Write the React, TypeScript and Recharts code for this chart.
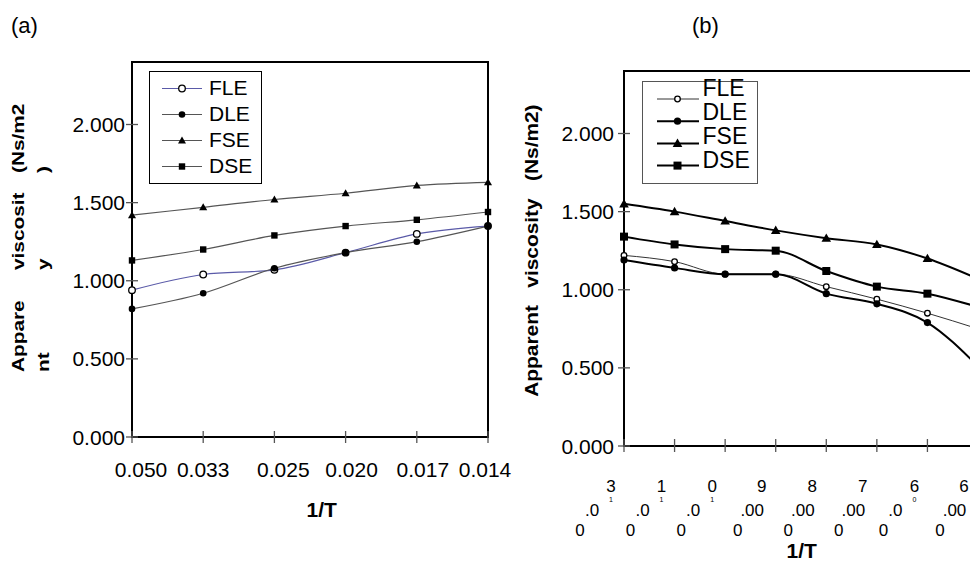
import React from 'react'
import { LineChart, Line, XAxis, YAxis, Legend, ReferenceArea, Label } from 'recharts'

const FONT = '"Liberation Sans", Arial, Helvetica, sans-serif'

// panel (a)
const aInvT = ['0.050', '0.033', '0.025', '0.020', '0.017', '0.014']
const aFLE = [0.94, 1.04, 1.07, 1.18, 1.3, 1.35]
const aDLE = [0.82, 0.92, 1.08, 1.18, 1.25, 1.35]
const aFSE = [1.42, 1.47, 1.52, 1.56, 1.61, 1.63]
const aDSE = [1.13, 1.2, 1.29, 1.35, 1.39, 1.44]

// panel (b)
const bInvT = ['0.013', '0.011', '0.010', '0.009', '0.008', '0.007', '0.006', '0.006']
const bFLE = [1.22, 1.18, 1.1, 1.1, 1.02, 0.94, 0.85, 0.75]
const bDLE = [1.19, 1.14, 1.1, 1.1, 0.975, 0.91, 0.79, 0.51]
const bFSE = [1.55, 1.5, 1.44, 1.38, 1.33, 1.29, 1.2, 1.07]
const bDSE = [1.34, 1.29, 1.26, 1.25, 1.12, 1.02, 0.975, 0.89]

const yTicks = [0, 0.5, 1, 1.5, 2]
const seriesNames = ['FLE', 'DLE', 'FSE', 'DSE']

const aRows = aInvT.map((t, i) => ({ t, FLE: aFLE[i], DLE: aDLE[i], FSE: aFSE[i], DSE: aDSE[i] }))
const bRows = bInvT.map((t, i) => ({ i, FLE: bFLE[i], DLE: bDLE[i], FSE: bFSE[i], DSE: bDSE[i] }))

type Kind = 'open' | 'dot' | 'tri' | 'sq'
type SeriesStyle = { stroke: string; width: number; kind: Kind; size: number }

const aStyle: Record<string, SeriesStyle> = {
  FLE: { stroke: '#5a5aa8', width: 1.2, kind: 'open', size: 3.3 },
  DLE: { stroke: '#555', width: 1.2, kind: 'dot', size: 3.3 },
  FSE: { stroke: '#555', width: 1.2, kind: 'tri', size: 4 },
  DSE: { stroke: '#555', width: 1.2, kind: 'sq', size: 3.2 },
}
const bStyle: Record<string, SeriesStyle> = {
  FLE: { stroke: '#333', width: 1, kind: 'open', size: 2.8 },
  DLE: { stroke: '#000', width: 2, kind: 'dot', size: 3.6 },
  FSE: { stroke: '#000', width: 2, kind: 'tri', size: 4.8 },
  DSE: { stroke: '#000', width: 2, kind: 'sq', size: 4 },
}

function Marker({ kind, cx, cy, s }: { kind: Kind; cx: number; cy: number; s: number }) {
  if (cx == null || cy == null) return null
  if (kind === 'open') return <circle cx={cx} cy={cy} r={s} fill="#fff" stroke="#000" strokeWidth={1.3} />
  if (kind === 'dot') return <circle cx={cx} cy={cy} r={s} fill="#000" />
  if (kind === 'tri')
    return <polygon points={`${cx},${cy - s} ${cx + s},${cy + s * 0.75} ${cx - s},${cy + s * 0.75}`} fill="#000" />
  return <rect x={cx - s} y={cy - s} width={s * 2} height={s * 2} fill="#000" />
}

// small shifts of the (a) tick labels, as placed in the original
const aNudge = [9, 0, 9, 6, 6, -3]

function XTickA({ x, y, payload, index }: any) {
  return (
    <g>
      <line x1={x} x2={x} y1={y - 6} y2={y + 6} stroke="#555" strokeWidth={1.3} />
      <text x={x + aNudge[index]} y={y + 40} textAnchor="middle" fontSize={21} fontFamily={FONT} fill="#000">
        {payload.value}
      </text>
    </g>
  )
}

const bWrapped = [0, 1, 2, 6]

function XTickB({ x, y, index }: any) {
  const s = bInvT[index]
  if (!s) return null
  const wrapped = bWrapped.includes(index)
  const mid = wrapped ? s.slice(1, 3) : s.slice(1, 4)
  return (
    <g fontFamily={FONT} fill="#000" textAnchor="middle">
      <line x1={x} x2={x} y1={y - 7} y2={y + 6} stroke="#555" strokeWidth={1.3} />
      <text x={x + (wrapped ? -13 : -14)} y={y + 46} fontSize={17}>{s[4]}</text>
      {wrapped && <text x={x - 13} y={y + 56} fontSize={7}>{s[3]}</text>}
      <text x={x + (wrapped ? -32 : -23.5)} y={y + 70} fontSize={17}>{mid}</text>
      <text x={x + (wrapped ? -44 : -38)} y={y + 90} fontSize={17}>{s[0]}</text>
    </g>
  )
}

function makeYTick(gap: number) {
  return function YTick({ x, y, payload }: any) {
    return (
      <g>
        <line x1={x - 6} x2={x + 6} y1={y} y2={y} stroke="#555" strokeWidth={1.3} />
        <text x={x - gap} y={y + 7.5} textAnchor="end" fontSize={21} fontFamily={FONT} fill="#000">
          {Number(payload.value).toFixed(3)}
        </text>
      </g>
    )
  }
}
const YTickA = makeYTick(7)
const YTickB = makeYTick(10)

function LegendA() {
  return (
    <svg width={113} height={113} style={{ display: 'block', overflow: 'visible' }}>
      <rect x={0.5} y={0.5} width={112} height={112} fill="#fff" stroke="#000" />
      {seriesNames.map((name, i) => {
        const st = aStyle[name]
        const ly = 17.5 + 26 * i
        return (
          <g key={name}>
            <line x1={13} x2={53} y1={ly} y2={ly} stroke={st.stroke} strokeWidth={st.width} />
            <Marker kind={st.kind} cx={33} cy={ly} s={st.size} />
            <text x={60} y={ly + 6} fontSize={21} fontFamily={FONT} fill="#000">{name}</text>
          </g>
        )
      })}
    </svg>
  )
}

function LegendB() {
  return (
    <svg width={116} height={103} style={{ display: 'block', overflow: 'visible' }}>
      <rect x={0.5} y={0.5} width={115} height={102} fill="#fff" stroke="#555" />
      {seriesNames.map((name, i) => {
        const st = bStyle[name]
        const ly = 18 + 22.2 * i
        return (
          <g key={name}>
            <line x1={15} x2={57} y1={ly} y2={ly} stroke={st.stroke} strokeWidth={st.width} />
            <Marker kind={st.kind} cx={35.5} cy={ly} s={st.size} />
            <text x={60.5} y={14.6 + 24.2 * i} fontSize={23} fontFamily={FONT} fill="#000">{name}</text>
          </g>
        )
      })}
    </svg>
  )
}

// rotated, wrapped y title of (a)
function YTitleA() {
  const parts = [
    ['Appare', 'nt', 372],
    ['viscosit', 'y', 270],
    ['(Ns/m2', ')', 173],
  ] as const
  return (
    <g fontFamily={FONT} fontWeight="bold" fontSize={16} fill="#000">
      {parts.map(([l1, l2, y0]) => (
        <g key={l1}>
          <text transform={`translate(24,${y0}) rotate(-90) scale(1.3,1)`}>{l1}</text>
          <text transform={`translate(49,${y0}) rotate(-90) scale(1.3,1)`}>{l2}</text>
        </g>
      ))}
    </g>
  )
}

function YTitleB() {
  return (
    <text
      transform="translate(38,396.7) rotate(-90) scale(1.16,1)"
      fontFamily={FONT}
      fontWeight="bold"
      fontSize={18}
      fill="#000"
      style={{ whiteSpace: 'pre' }}
    >
      {'Apparent   viscosity   (Ns/m2)'}
    </text>
  )
}

function XTitle({ x, y }: { x: number; y: number }) {
  return (
    <text x={x} y={y} textAnchor="middle" fontFamily={FONT} fontWeight="bold" fontSize={21} fill="#000">
      1/T
    </text>
  )
}

const axisStroke = { stroke: '#000', strokeWidth: 2 }

export default function App() {
  return (
    <div
      style={{
        position: 'fixed',
        left: 0,
        top: 0,
        width: 970,
        height: 562,
        overflow: 'hidden',
        background: '#fff',
        fontFamily: FONT,
      }}
    >
      <div style={{ position: 'absolute', left: 11, top: 15, fontSize: 22, lineHeight: '22px', color: '#000' }}>(a)</div>
      <div style={{ position: 'absolute', left: 692, top: 15, fontSize: 22, lineHeight: '22px', color: '#000' }}>(b)</div>

      <div style={{ position: 'absolute', left: 0, top: 0 }}>
        <LineChart width={530} height={562} data={aRows} margin={{ top: 62, right: 42, bottom: 65, left: 72 }}>
          <XAxis
            dataKey="t"
            type="category"
            height={60}
            interval={0}
            axisLine={axisStroke}
            tickLine={false}
            tickSize={0}
            tickMargin={0}
            tick={<XTickA />}
          >
            <Label content={() => <XTitle x={321.7} y={516.7} />} />
          </XAxis>
          <YAxis
            width={60}
            domain={[0, 2.4]}
            ticks={yTicks}
            interval={0}
            axisLine={axisStroke}
            tickLine={false}
            tickSize={0}
            tickMargin={0}
            tick={<YTickA />}
          >
            <Label content={() => <YTitleA />} />
          </YAxis>
          <ReferenceArea x1={aInvT[0]} x2={aInvT[aInvT.length - 1]} y1={0} y2={2.4} fill="none" stroke="#000" strokeWidth={2} />
          <Legend
            layout="vertical"
            align="center"
            verticalAlign="middle"
            wrapperStyle={{ left: 148.5, top: 70.5, width: 113, height: 113 }}
            content={<LegendA />}
          />
          {seriesNames.map((name) => {
            const st = aStyle[name]
            return (
              <Line
                key={name}
                dataKey={name}
                name={name}
                type="monotone"
                stroke={st.stroke}
                strokeWidth={st.width}
                isAnimationActive={false}
                activeDot={false}
                dot={(p: any) => <Marker key={`${name}${p.index}`} kind={st.kind} cx={p.cx} cy={p.cy} s={st.size} />}
              />
            )
          })}
        </LineChart>
      </div>

      <div style={{ position: 'absolute', left: 500, top: 0 }}>
        <LineChart width={490} height={562} data={bRows} margin={{ top: 71, right: 12, bottom: 16, left: 64 }}>
          <XAxis
            dataKey="i"
            type="category"
            height={100}
            interval={0}
            axisLine={axisStroke}
            tickLine={false}
            tickSize={0}
            tickMargin={0}
            tick={<XTickB />}
          >
            <Label content={() => <XTitle x={301.7} y={558} />} />
          </XAxis>
          <YAxis
            width={60}
            domain={[0, 2.4]}
            ticks={yTicks}
            interval={0}
            axisLine={axisStroke}
            tickLine={false}
            tickSize={0}
            tickMargin={0}
            tick={<YTickB />}
          >
            <Label content={() => <YTitleB />} />
          </YAxis>
          <ReferenceArea x1={0} x2={bRows.length - 1} y1={0} y2={2.4} fill="none" stroke="#000" strokeWidth={2} />
          <Legend
            layout="vertical"
            align="center"
            verticalAlign="middle"
            wrapperStyle={{ left: 142, top: 81, width: 116, height: 103 }}
            content={<LegendB />}
          />
          {seriesNames.map((name) => {
            const st = bStyle[name]
            return (
              <Line
                key={name}
                dataKey={name}
                name={name}
                type="monotone"
                stroke={st.stroke}
                strokeWidth={st.width}
                isAnimationActive={false}
                activeDot={false}
                dot={(p: any) => <Marker key={`${name}${p.index}`} kind={st.kind} cx={p.cx} cy={p.cy} s={st.size} />}
              />
            )
          })}
        </LineChart>
      </div>
    </div>
  )
}
